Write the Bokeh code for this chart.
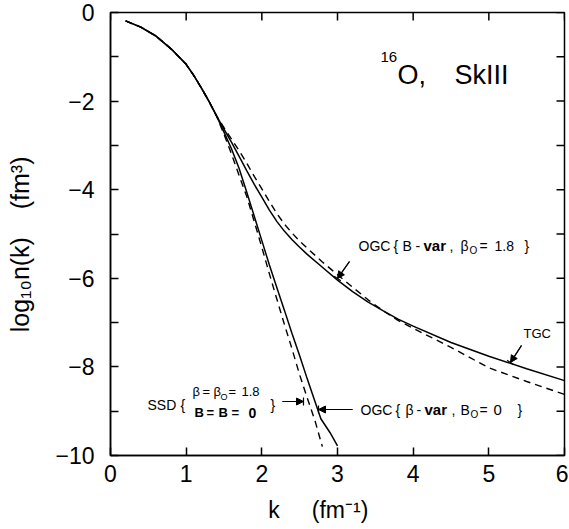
import math
from bokeh.plotting import figure
from bokeh.models import FixedTicker, Label, Arrow, NormalHead, TeeHead, Range1d
from bokeh.embed import file_html
from bokeh.resources import INLINE

# ---------------- data ----------------
k_start = [0.2, 0.4, 0.6, 0.8, 1.0, 1.1, 1.2, 1.3, 1.4]
n_start = [-0.19, -0.33, -0.53, -0.82, -1.17, -1.42, -1.70, -2.00, -2.33]

# OGC {B-var, beta0=1.8}  (solid, upper)
k_ogc_b = [1.5, 1.6, 1.7, 1.8, 1.9, 2.0, 2.1, 2.2, 2.3, 2.4, 2.5, 2.6, 2.8, 3.0,
           3.2, 3.4, 3.6, 3.8, 4.0, 4.5, 5.0, 5.5, 6.0]
n_ogc_b = [-2.63, -2.93, -3.25, -3.57, -3.88, -4.17, -4.46, -4.72, -4.94, -5.13,
           -5.30, -5.46, -5.75, -6.04, -6.30, -6.53, -6.73, -6.92, -7.08, -7.45,
           -7.76, -8.04, -8.31]

# TGC (dashed, upper)
k_tgc = [1.5, 1.6, 1.7, 1.8, 1.9, 2.0, 2.1, 2.2, 2.3, 2.4, 2.5, 2.6, 2.8, 3.0,
         3.2, 3.4, 3.6, 3.8, 4.0, 4.5, 5.0, 5.5, 6.0]
n_tgc = [-2.60, -2.86, -3.12, -3.40, -3.70, -3.98, -4.27, -4.54, -4.78, -4.98,
         -5.16, -5.32, -5.63, -5.92, -6.20, -6.48, -6.73, -6.95, -7.13, -7.56,
         -8.02, -8.33, -8.62]

# OGC {beta-var, B0=0}  (solid, steep)
k_ogc_beta = [1.5, 1.6, 1.7, 1.8, 1.9, 2.0, 2.1, 2.2, 2.3, 2.4, 2.5, 2.6, 2.7,
              2.78, 2.9, 3.0]
n_ogc_beta = [-2.70, -3.08, -3.52, -4.05, -4.60, -5.15, -5.70, -6.22, -6.73,
              -7.25, -7.75, -8.27, -8.77, -9.17, -9.48, -9.78]

# SSD (dashed, steep)
k_ssd = [1.5, 1.6, 1.7, 1.8, 1.9, 2.0, 2.1, 2.2, 2.3, 2.4, 2.5, 2.6, 2.7, 2.8]
n_ssd = [-2.75, -3.20, -3.68, -4.15, -4.72, -5.30, -5.90, -6.48, -7.05, -7.60,
         -8.18, -8.70, -9.20, -9.80]

x_ticks = [0, 1, 2, 3, 4, 5, 6]
y_major = [0, -2, -4, -6, -8, -10]
y_minor = [-1, -3, -5, -7, -9]
x_tick_labels = {0: "0", 1: "1", 2: "2", 3: "3", 4: "4", 5: "5", 6: "6"}
y_tick_labels = {0: "0", -2: "\u22122", -4: "\u22124", -6: "\u22126", -8: "\u22128", -10: "\u221210"}

FONT = "Liberation Sans"
NB = "\u00a0"

TOP = 14
FH = 443

p = figure(frame_width=454, frame_height=FH, output_backend="svg", toolbar_location=None,
           x_range=Range1d(0, 6), y_range=Range1d(-10, 0),
           min_border_left=110, min_border_top=TOP - 2, min_border_right=4, min_border_bottom=66,
           x_axis_label="k" + NB * 5 + "(fm\u207b\u00b9)" + NB * 6,
           y_axis_label="log\u2081\u2080n(k)" + NB * 4 + "(fm\u00b3)" + NB * 3)
p.grid.visible = False
p.outline_line_color = "black"
p.outline_line_width = 1.5
p.background_fill_color = "white"
p.border_fill_color = "white"

def style_axis(ax, ticks, minor, labels):
    ax.ticker = FixedTicker(ticks=ticks, minor_ticks=minor)
    ax.major_tick_in = 8
    ax.major_tick_out = 0
    ax.minor_tick_in = 8
    ax.minor_tick_out = 0
    ax.axis_line_width = 1.5
    ax.major_tick_line_width = 1.5
    ax.minor_tick_line_width = 1.5
    ax.axis_line_color = "black"
    ax.major_tick_line_color = "black"
    ax.minor_tick_line_color = "black"
    ax.major_label_overrides = labels
    ax.major_label_text_font = FONT
    ax.major_label_text_font_size = "23px"
    ax.major_label_text_color = "black"
    ax.axis_label_text_font = FONT
    ax.axis_label_text_font_size = "23px"
    ax.axis_label_text_font_style = "normal"
    ax.axis_label_text_color = "black"

xa = p.xaxis[0]
ya = p.yaxis[0]
style_axis(xa, x_ticks, [], x_tick_labels)
style_axis(ya, y_major, y_minor, y_tick_labels)
ya.axis_label_text_font_size = "25px"
xa.major_label_standoff = 9
ya.major_label_standoff = 16
xa.axis_label_standoff = 12
ya.axis_label_standoff = 18

# inward ticks on the top and right frame edges
y_top = p.y_range.end
x_right = p.x_range.end
p.ray(x=x_ticks, y=[y_top] * len(x_ticks), length=8, length_units="screen",
      angle=-math.pi / 2, line_color="black", line_width=1.5)
y_all = y_major + y_minor
p.ray(x=[x_right] * len(y_all), y=y_all, length=8, length_units="screen",
      angle=math.pi, line_color="black", line_width=1.5)

# ---------------- curves ----------------
p.line(k_start + k_ogc_b, n_start + n_ogc_b, line_color="black", line_width=1.5)
p.line(k_start + k_tgc, n_start + n_tgc, line_color="black", line_width=1.4,
       line_dash="7 5")
p.line(k_start + k_ogc_beta, n_start + n_ogc_beta, line_color="black", line_width=1.5)
p.line(k_start + k_ssd, n_start + n_ssd, line_color="black", line_width=1.4,
       line_dash="7 5")

# ---------------- annotations ----------------
def dx(xp):
    return (xp - 110) / 75.67

def dy(yp):
    return -(yp - TOP) / (FH / 10)

def lab(xp, yp, text, size=13, style="normal", align="left"):
    p.add_layout(Label(x=dx(xp), y=dy(yp), text=text, text_font=FONT,
                       text_font_size=f"{size}px", text_font_style=style,
                       text_align=align, text_baseline="middle", text_color="black"))

# 16O, SkIII
lab(380, 58, "16", size=15)
lab(397, 76, "O,", size=27)
lab(454, 76, "SkIII", size=27)

# OGC { B-var, beta0 = 1.8 }
lab(358, 247, "OGC", size=14)
lab(393, 247, "{", size=14)
lab(402, 247, "B", size=14)
lab(415, 247, "-", size=14)
lab(423, 247, "var", size=15, style="bold")
lab(449, 247, ",", size=14)
lab(460, 247, "\u03b2", size=14)
lab(469, 252, "O", size=10)
lab(479, 247, "=", size=14)
lab(494, 247, "1.8", size=14)
lab(524, 247, "}", size=14)

# OGC { beta-var, B0 = 0 }
lab(360, 411, "OGC", size=14)
lab(395, 411, "{", size=14)
lab(405, 411, "\u03b2", size=14)
lab(416, 411, "-", size=14)
lab(424, 411, "var", size=15, style="bold")
lab(451, 411, ",", size=14)
lab(460, 411, "B", size=14)
lab(470, 416, "O", size=10)
lab(479, 411, "=", size=14)
lab(493, 411, "0", size=15)
lab(517, 411, "}", size=14)

# TGC
lab(523, 335, "TGC")

# SSD { beta = beta0 = 1.8 / B = B = 0 }
lab(147, 406, "SSD", size=14)
lab(180, 406, "{", size=14)
lab(192, 393, "\u03b2")
lab(202, 393, "=")
lab(213, 393, "\u03b2")
lab(220, 398, "O", size=9)
lab(228, 393, "=")
lab(241, 393, "1.8")
lab(194, 414, "B", style="bold")
lab(206, 414, "=", style="bold")
lab(218, 414, "B", style="bold")
lab(231, 414, "=", style="bold")
lab(248, 414, "0", size=14, style="bold")
lab(270, 406, "}", size=14)

def arrow(x0, y0, x1, y1):
    p.add_layout(Arrow(x_start=dx(x0), y_start=dy(y0), x_end=dx(x1), y_end=dy(y1),
                       line_width=1.2, line_color="black",
                       end=NormalHead(size=7, fill_color="black", line_color="black")))
    p.add_layout(Arrow(x_start=dx(x0), y_start=dy(y0), x_end=dx(x1), y_end=dy(y1),
                       line_width=1.2, line_color="black",
                       end=TeeHead(size=8, line_color="black", line_width=1.2)))

arrow(349, 263, 337, 280)
arrow(521, 347, 510, 364)
arrow(282, 403, 303, 403)
arrow(352, 411, 318, 411)

open("out.html", "w").write(file_html(p, INLINE))
